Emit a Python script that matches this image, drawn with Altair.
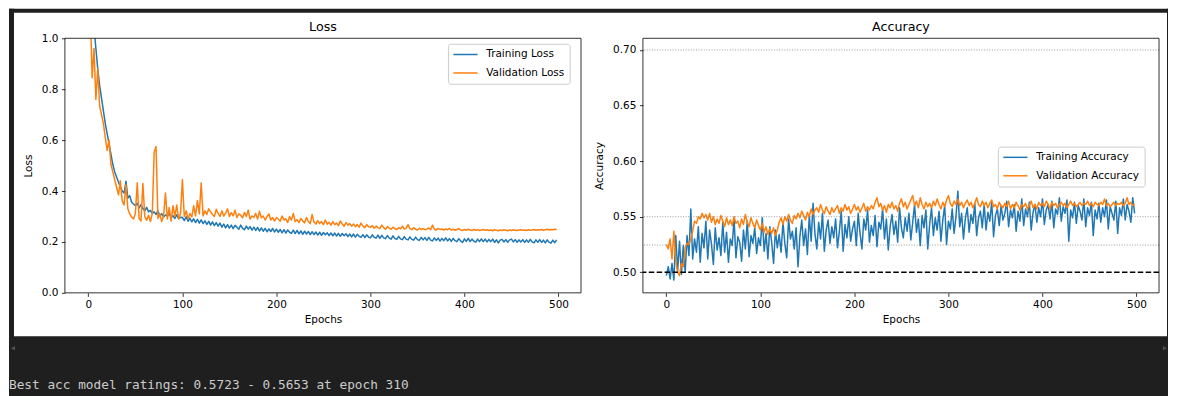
import altair as alt
import pandas as pd

# ---------------- data ----------------
EPOCHS = list(range(0, 500, 2))

# losses in thousandths
TRAIN_LOSS = [
    1500, 1310, 1160, 1040, 960, 880, 815, 765, 715, 665,
    625, 585, 545, 505, 475, 455, 435, 415, 400, 392,
    438, 372, 382, 356, 349, 342, 352, 334, 347, 331,
    322, 336, 318, 324, 312, 318, 308, 322, 302, 311,
    298, 306, 301, 312, 296, 303, 292, 307, 291, 297,
    296, 284, 299, 281, 293, 279, 291, 276, 289, 274,
    287, 272, 283, 269, 281, 266, 279, 264, 276, 262,
    274, 258, 270, 255, 268, 254, 266, 252, 265, 258,
    250, 266, 253, 248, 262, 250, 260, 246, 258, 245,
    257, 243, 255, 242, 253, 240, 251, 241, 253, 239,
    250, 238, 249, 236, 248, 235, 247, 238, 234, 246,
    233, 245, 232, 243, 230, 242, 231, 241, 229, 240,
    229, 239, 227, 238, 226, 237, 228, 236, 225, 235,
    224, 235, 223, 234, 222, 233, 224, 232, 221, 231,
    220, 231, 219, 230, 222, 218, 229, 217, 228, 219,
    216, 228, 218, 215, 227, 214, 226, 216, 213, 225,
    215, 211, 224, 213, 210, 222, 212, 209, 221, 211,
    208, 220, 210, 207, 219, 209, 206, 218, 208, 217,
    206, 218, 207, 204, 216, 206, 215, 203, 214, 205,
    216, 204, 213, 202, 214, 205, 201, 213, 203, 198,
    212, 202, 214, 201, 211, 203, 199, 211, 201, 212,
    201, 211, 200, 210, 201, 211, 198, 208, 196, 207,
    210, 200, 209, 199, 208, 211, 200, 209, 199, 208,
    200, 209, 198, 208, 199, 210, 200, 196, 208, 199,
    209, 198, 207, 196, 208, 199, 195, 207, 197, 208,
]
VAL_LOSS = [
    1350, 1120, 845, 960, 760, 880, 735, 700, 665, 610,
    560, 600, 505, 475, 445, 415, 385, 440, 360, 345,
    425, 330, 310, 298, 290, 312, 432, 292, 282, 430,
    300, 285, 305, 280, 312, 552, 575, 292, 310, 280,
    302, 392, 290, 335, 282, 342, 300, 345, 290, 312,
    445, 300, 322, 290, 312, 298, 342, 302, 362, 310,
    432, 302, 322, 308, 330, 318, 308, 300, 328, 312,
    300, 322, 302, 312, 330, 300, 315, 302, 325, 296,
    310, 305, 295, 316, 300, 325, 290, 302, 296, 312,
    290, 320, 295, 302, 286, 300, 310, 286, 296, 282,
    296, 290, 281, 302, 286, 291, 276, 300, 286, 312,
    280, 288, 276, 292, 282, 275, 296, 280, 272, 308,
    278, 270, 284, 272, 280, 268, 286, 270, 277, 266,
    280, 268, 274, 264, 282, 270, 262, 276, 266, 272,
    262, 270, 260, 268, 258, 274, 262, 256, 268, 260,
    258, 264, 254, 262, 256, 252, 266, 256, 250, 260,
    254, 250, 258, 252, 249, 256, 251, 262, 250, 254,
    268, 252, 248, 256, 250, 247, 254, 249, 252, 248,
    250, 255, 248, 266, 250, 247, 253, 249, 251, 246,
    251, 248, 253, 247, 250, 246, 249, 252, 247, 245,
    249, 246, 250, 247, 245, 249, 246, 248, 245, 247,
    249, 246, 248, 245, 247, 244, 248, 246, 244, 247,
    245, 248, 246, 244, 247, 245, 248, 246, 245, 247,
    248, 246, 247, 245, 248, 246, 247, 249, 246, 248,
    247, 249, 246, 248, 250, 247, 249, 248, 250, 249,
]
# accuracies in thousandths
TRAIN_ACC = [
    497, 505, 494, 508, 493, 533, 501, 528, 498, 524,
    500, 533, 515, 557, 512, 530, 518, 541, 509, 535,
    522, 546, 512, 538, 525, 507, 540, 520, 531, 515,
    545, 518, 536, 509, 530, 524, 548, 513, 532, 527,
    510, 538, 521, 546, 514, 533, 526, 540, 517, 531,
    524, 549, 519, 535, 512, 541, 527, 508, 538, 522,
    534, 518, 545, 526, 513, 548, 530, 537, 521, 540,
    505, 532, 547, 524, 539, 516, 551, 528, 562, 535,
    521, 545, 530, 553, 519, 538, 547, 526, 541, 531,
    548, 522, 537, 555, 519, 543, 531, 550, 528, 539,
    546, 524, 553, 535, 521, 548, 538, 556, 527, 542,
    533, 551, 523, 545, 539, 557, 530, 548, 520, 541,
    552, 534, 546, 527, 558, 540, 531, 549, 537, 553,
    529, 545, 561, 536, 548, 524, 551, 540, 556, 521,
    543, 558, 533, 549, 538, 555, 528, 547, 560, 525,
    546, 539, 557, 535, 550, 573, 541, 553, 530, 549,
    558, 536, 552, 544, 562, 533, 549, 555, 540, 561,
    538, 554, 546, 563, 532, 551, 557, 542, 560, 547,
    553, 564, 541, 556, 549, 561, 537, 555, 546, 566,
    542, 557, 550, 563, 538, 554, 561, 545, 558, 550,
    566, 543, 556, 561, 548, 564, 540, 557, 552, 567,
    546, 559, 553, 565, 528, 556, 549, 563, 544, 560,
    555, 547, 566, 541, 558, 551, 563, 533, 556, 548,
    562, 545, 558, 550, 565, 539, 559, 553, 547, 564,
    535, 558, 551, 566, 547, 561, 555, 545, 567, 553,
]
VAL_ACC = [
    525, 521, 530, 512, 537, 510, 500, 497, 508, 505,
    522, 526, 525, 530, 537, 546, 544, 550, 548, 553,
    549, 552, 547, 553, 545, 550, 543, 548, 544, 551,
    546, 541, 549, 543, 547, 542, 550, 544, 546, 540,
    548, 543, 552, 545, 541, 549, 544, 540, 547, 542,
    538, 544, 536, 541, 534, 539, 535, 540, 533, 538,
    545, 549, 543, 550, 546, 552, 547, 544, 551, 548,
    553, 549, 555, 551, 547, 554, 550, 557, 552, 556,
    558, 554, 561, 556, 553, 559, 555, 552, 558, 554,
    557, 560, 553, 558, 555, 561, 556, 559, 553, 557,
    561, 556, 559, 554, 558, 562, 555, 559, 556, 560,
    557, 563, 567, 559, 562, 556, 560, 554, 561, 558,
    563, 557, 560, 555, 562, 566, 559, 563, 557, 561,
    565, 569, 560, 564, 558, 567, 561, 557, 563, 559,
    562, 558, 564, 560, 566, 561, 557, 563, 559, 565,
    569, 562, 559, 564, 561, 566, 560, 563, 558, 562,
    565, 560, 563, 558, 562, 567, 561, 559, 564, 560,
    563, 558, 562, 565, 559, 561, 557, 563, 560, 558,
    562, 559, 564, 557, 561, 558, 563, 560, 556, 561,
    559, 562, 557, 560, 564, 558, 561, 557, 563, 560,
    562, 559, 564, 561, 557, 563, 560, 562, 558, 561,
    563, 560, 562, 558, 561, 564, 560, 562, 559, 561,
    563, 560, 562, 561, 564, 560, 562, 559, 563, 561,
    560, 563, 561, 566, 560, 562, 559, 561, 563, 560,
    562, 561, 563, 560, 562, 567, 561, 563, 560, 561,
]

LOSS_NAMES = ["Training Loss", "Validation Loss"]
ACC_NAMES = ["Training Accuracy", "Validation Accuracy"]
PANEL_TITLES = ["Loss", "Accuracy"]
X_TICKS = [0, 100, 200, 300, 400, 500]
LOSS_TICKS = [0.0, 0.2, 0.4, 0.6, 0.8, 1.0]
ACC_TICKS = [0.50, 0.55, 0.60, 0.65, 0.70]
ACC_DOTTED = [0.70, 0.55, 0.5245]
ACC_DASHED = [0.50]
FOOTER = "Best acc model ratings: 0.5723 - 0.5653 at epoch 310"

COLORS = ["#1f77b4", "#ff7f0e"]
DARK = "#1f1f1f"
FONT = "DejaVu Sans"
W, H = 517, 255


def long_df(names, series):
    rows = []
    for name, vals in zip(names, series):
        for i, (e, v) in enumerate(zip(EPOCHS, vals)):
            rows.append({"epoch": e, "value": v / 1000.0, "series": name, "i": i})
    return pd.DataFrame(rows)


loss_df = long_df(LOSS_NAMES, [TRAIN_LOSS, VAL_LOSS])
acc_df = long_df(ACC_NAMES, [TRAIN_ACC, VAL_ACC])

x_scale = alt.Scale(domain=[-24.95, 523.95], nice=False, zero=False)
x_axis = alt.Axis(title="Epochs", values=X_TICKS, format="d", titlePadding=4)
loss_y_scale = alt.Scale(domain=[0.0, 1.0], nice=False, zero=False)
acc_y_scale = alt.Scale(domain=[0.4815, 0.7105], nice=False, zero=False)


def legend(lx, ly):
    return alt.Legend(
        title=None, orient="none", legendX=lx, legendY=ly,
        symbolType="M-1,0H3.6", symbolSize=110.25, symbolStrokeWidth=1.5,
        labelFont=FONT, labelFontSize=10.5, labelColor="black",
        labelOffset=21.65, padding=4.75, rowPadding=6.5,
        fillColor="white", strokeColor="#cccccc", cornerRadius=2.5, zindex=2,
    )


one = alt.Data(values=[{"k": 1}])


def panel_title(text):
    return alt.Chart(alt.Data(values=[{"t": text}])).mark_text(
        font=FONT, fontSize=12.7, color="black", align="center", baseline="alphabetic"
    ).encode(x=alt.value(W / 2), y=alt.value(-7.5), text="t:N")


frame = alt.Chart(one).mark_rect(fillOpacity=0, stroke="black", strokeWidth=0.8).encode(
    x=alt.value(0), x2=alt.value(W), y=alt.value(0), y2=alt.value(H)
)


def band(x, x2, y, y2):
    return alt.Chart(one).mark_rect(color=DARK).encode(
        x=alt.value(x), x2=alt.value(x2), y=alt.value(y), y2=alt.value(y2))


# dark notebook surroundings around the white figure (relative to the left plot)
bands = [
    band(-56, 1105, -29.5, -25.5),   # top
    band(-56, -51, -29.5, 358.5),    # left
    band(1104, 1105, -29.5, 358.5),  # right
    band(-56, 1105, 298.5, 358.5),   # bottom
]
footer = alt.Chart(alt.Data(values=[{"t": FOOTER}])).mark_text(
    font="DejaVu Sans Mono", fontSize=12.8, color="#cccccc", align="left", baseline="alphabetic"
).encode(x=alt.value(-56), y=alt.value(351.2), text="t:N")
arrow_l = alt.Chart(one).mark_point(shape="triangle-left", filled=True, size=22,
                                    color="#505050", opacity=1).encode(
    x=alt.value(-52), y=alt.value(310.5))
arrow_r = alt.Chart(one).mark_point(shape="triangle-right", filled=True, size=22,
                                    color="#505050", opacity=1).encode(
    x=alt.value(1102), y=alt.value(310.5))

loss_lines = alt.Chart(loss_df).mark_line(clip=True, strokeWidth=1.5, strokeJoin="round").encode(
    x=alt.X("epoch:Q", scale=x_scale, axis=x_axis),
    y=alt.Y("value:Q", scale=loss_y_scale,
            axis=alt.Axis(title="Loss", values=LOSS_TICKS, format=".1f", titlePadding=8)),
    color=alt.Color("series:N", scale=alt.Scale(domain=LOSS_NAMES, range=COLORS),
                    legend=legend(383.7, 5.5)),
    order="i:Q",
)

left = alt.layer(*bands, footer, arrow_l, arrow_r, loss_lines, frame,
                 panel_title(PANEL_TITLES[0])).properties(width=W, height=H)

acc_lines = alt.Chart(acc_df).mark_line(clip=True, strokeWidth=1.5, strokeJoin="round").encode(
    x=alt.X("epoch:Q", scale=x_scale, axis=x_axis),
    y=alt.Y("value:Q", scale=acc_y_scale,
            axis=alt.Axis(title="Accuracy", values=ACC_TICKS, format=".2f", titlePadding=8)),
    color=alt.Color("series:N", scale=alt.Scale(domain=ACC_NAMES, range=COLORS),
                    legend=legend(355.6, 108.5)),
    order="i:Q",
)
dotted = alt.Chart(pd.DataFrame({"value": ACC_DOTTED})).mark_rule(
    color="#808080", strokeWidth=0.8, strokeDash=[1, 1.6]
).encode(y=alt.Y("value:Q", scale=acc_y_scale))
dashed = alt.Chart(pd.DataFrame({"value": ACC_DASHED})).mark_rule(
    color="black", strokeWidth=1.5, strokeDash=[5.5, 2.4]
).encode(y=alt.Y("value:Q", scale=acc_y_scale))

right = alt.layer(acc_lines, dotted, dashed, frame,
                  panel_title(PANEL_TITLES[1])).properties(width=W, height=H)

chart = alt.hconcat(left, right, spacing=62, bounds="flush").resolve_scale(
    color="independent"
).properties(
    padding=0, background="white", autosize=alt.AutoSizeParams(type="pad")
).configure_view(stroke="transparent").configure_axis(
    labelFont=FONT, labelFontSize=10.5, labelColor="black",
    titleFont=FONT, titleFontSize=10.5, titleFontWeight="normal", titleColor="black",
    tickColor="black", tickWidth=0.8, tickSize=3.5, labelPadding=3.5,
    domain=False, grid=False, labelFlush=False,
)

chart.save("out.html", embed_options={"renderer": "svg", "actions": False})
